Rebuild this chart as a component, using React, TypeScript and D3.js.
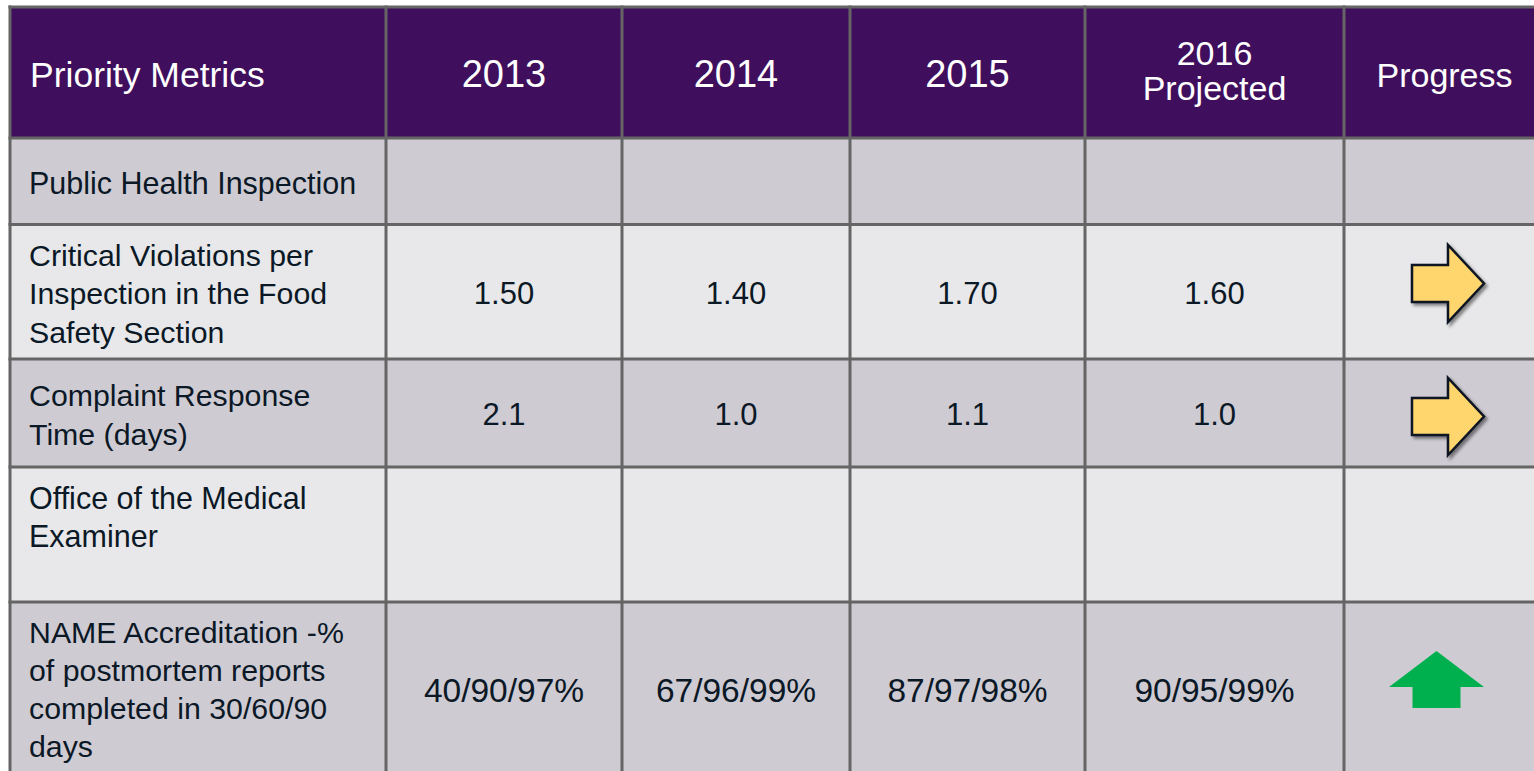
import React from "react";
import * as d3 from "d3";

// ---- data ----
const headers: string[][] = [["Priority Metrics"], ["2013"], ["2014"], ["2015"], ["2016", "Projected"], ["Progress"]];
const metricLabels: string[][] = [
  ["Public Health Inspection"],
  ["Critical Violations per", "Inspection in the Food", "Safety Section"],
  ["Complaint Response", "Time (days)"],
  ["Office of the Medical", "Examiner", ""],
  ["NAME Accreditation -%", "of postmortem reports", "completed in 30/60/90", "days"],
];
const isSection: boolean[] = [true, false, false, true, false];
const values2013: string[] = ["", "1.50", "2.1", "", "40/90/97%"];
const values2014: string[] = ["", "1.40", "1.0", "", "67/96/99%"];
const values2015: string[] = ["", "1.70", "1.1", "", "87/97/98%"];
const values2016: string[] = ["", "1.60", "1.0", "", "90/95/99%"];
const progress: string[] = ["", "right", "right", "", "up"];

// ---- layout ----
const W = 1534;
const H = 771;
const colEdges = [10, 386, 622, 850, 1085, 1344, 1545];
const rowEdges = [7, 138, 224.5, 359, 467, 602, 800];
const rowFill = ["#cfcbd3", "#e8e8ea", "#cfcbd3", "#e8e8ea", "#cfcbd3"];
const font = "'Liberation Sans', Arial, sans-serif";

const colX = d3.scaleOrdinal<number, number>().domain(d3.range(6)).range(colEdges.slice(0, 6));
const colW = (i: number) => colEdges[i + 1] - colEdges[i];
const rowY = d3.scaleOrdinal<number, number>().domain(d3.range(6)).range(rowEdges.slice(0, 6));

const rightArrow = (cx: number, cy: number) =>
  d3.line()([
    [cx - 36, cy - 18.5], [cx, cy - 18.5], [cx, cy - 38.5], [cx + 36, cy],
    [cx, cy + 38.5], [cx, cy + 18.5], [cx - 36, cy + 18.5],
  ]) + "Z";
const upArrow = (cx: number, cy: number) =>
  d3.line()([
    [cx, cy - 36], [cx + 47.5, cy], [cx + 24, cy], [cx + 24, cy + 21],
    [cx - 24, cy + 21], [cx - 24, cy], [cx - 47.5, cy],
  ]) + "Z";
const arrowY: Record<number, number> = { 1: 283.5, 2: 416.5, 4: 687 };
const headerSize = [35.5, 38, 38, 38, 34, 34];

export default function App() {
  const dataCols = [values2013, values2014, values2015, values2016];
  const bodyLH = 38.3;
  return (
    <svg width={W} height={H} style={{ position: "absolute", left: 0, top: 0, background: "#fff" }}
      fontFamily={font}>
      <defs>
        <filter id="sh" x="-30%" y="-30%" width="160%" height="160%">
          <feDropShadow dx="2.5" dy="2.5" stdDeviation="1.6" floodColor="#000" floodOpacity="0.45" />
        </filter>
      </defs>
      {/* header */}
      <rect x={colEdges[0]} y={rowEdges[0]} width={W} height={rowEdges[1] - rowEdges[0]} fill="#3f0f5d" />
      {metricLabels.map((_, r) => (
        <rect key={r} x={colEdges[0]} y={rowY(r + 1)} width={W} height={rowEdges[r + 2] - rowEdges[r + 1]} fill={rowFill[r]} />
      ))}
      {/* grid lines */}
      {rowEdges.slice(0, 6).map((y, i) => (
        <line key={"h" + i} x1={colEdges[0] - 1.5} x2={W} y1={y} y2={y} stroke="#656565" strokeWidth={3} />
      ))}
      {colEdges.slice(0, 6).map((x, i) => (
        <line key={"v" + i} x1={x} x2={x} y1={rowEdges[0] - 1.5} y2={H} stroke="#656565" strokeWidth={3} />
      ))}
      {/* header text */}
      {headers.map((lines, c) => {
        const cy = (rowEdges[0] + rowEdges[1]) / 2;
        const lh = 35;
        const x = c === 0 ? 30 : colX(c) + colW(c) / 2;
        const base = lines.length === 1 ? 14.5 : 10;
        return (
          <g key={c}>
            {lines.map((l, k) => (
              <text key={k} x={x} y={cy + base + (k - (lines.length - 1) / 2) * lh} fill="#fff"
                fontSize={k === 0 ? headerSize[c] : 34} textAnchor={c === 0 ? "start" : "middle"}>{l}</text>
            ))}
          </g>
        );
      })}
      {/* body */}
      {metricLabels.map((lines, r) => {
        const y0 = rowY(r + 1);
        const y1 = rowEdges[r + 2];
        const cy = r === 4 ? 690 : (y0 + y1) / 2;
        const labelCy = r === 4 ? 687.5 : cy;
        return (
          <g key={r}>
            <text x={29} fill="#0b1826" fontSize={isSection[r] ? 30.5 : 30.3}
              fontWeight={isSection[r] ? 500 : 400}>
              {lines.map((l, k) => (
                <tspan key={k} x={29} y={labelCy + 12.5 + (k - (lines.length - 1) / 2) * bodyLH}>{l}</tspan>
              ))}
            </text>
            {dataCols.map((vals, c) =>
              vals[r] ? (
                <text key={c} x={colX(c + 1) + colW(c + 1) / 2} y={cy + 12} textAnchor="middle"
                  fill="#0b1826" fontSize={r === 4 ? 33.5 : 31}>
                  {vals[r]}
                </text>
              ) : null
            )}
            {progress[r] === "right" && (
              <path d={rightArrow(1448, arrowY[r])} fill="#ffd66e" stroke="#0d1520" strokeWidth={2.5}
                strokeLinejoin="miter" filter="url(#sh)" />
            )}
            {progress[r] === "up" && <path d={upArrow(1436.5, arrowY[r])} fill="#00b04f" />}
          </g>
        );
      })}
    </svg>
  );
}
